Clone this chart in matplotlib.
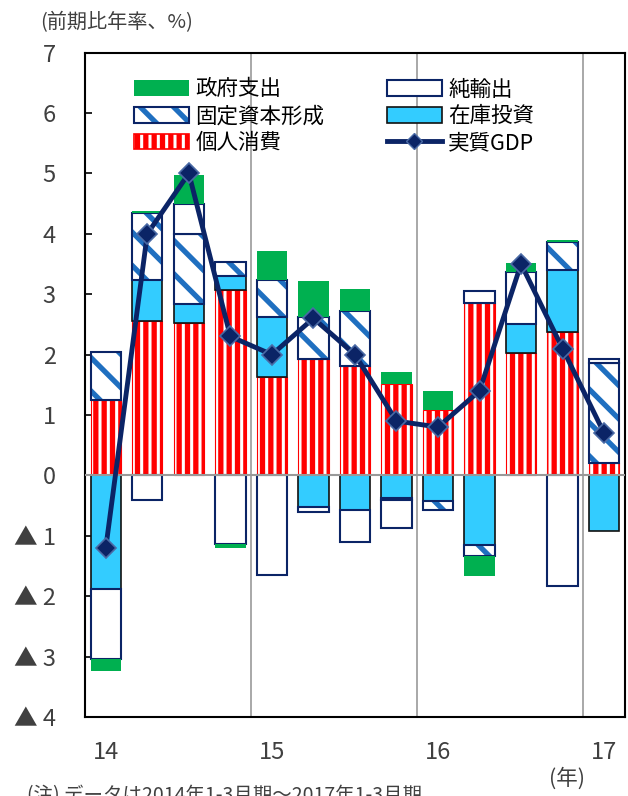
import numpy as np
import matplotlib
matplotlib.use("Agg")
import matplotlib.pyplot as plt
from matplotlib.patches import Patch
from matplotlib.lines import Line2D

plt.rcParams['font.family'] = ['Noto Sans CJK JP', 'DejaVu Sans']
plt.rcParams['hatch.linewidth'] = 3.8

# Data (contribution to real GDP growth, annualized q/q, %)
quarters = ["14Q1", "14Q2", "14Q3", "14Q4", "15Q1", "15Q2", "15Q3",
            "15Q4", "16Q1", "16Q2", "16Q3", "16Q4", "17Q1"]
personal = [1.25, 2.55, 2.52, 3.07, 1.63, 1.93, 1.81, 1.51, 1.08, 2.86, 2.02, 2.38, 0.21]
inventory = [-1.88, 0.68, 0.32, 0.23, 1.00, -0.52, -0.57, -0.37, -0.42, -1.15, 0.48, 1.02, -0.92]
fixed = [0.80, 1.12, 1.16, 0.23, 0.61, 0.69, 0.91, -0.04, -0.15, -0.18, 0.0, 0.46, 1.65]
net_exports = [-1.16, -0.41, 0.49, -1.13, -1.65, -0.08, -0.53, -0.46, 0.0, 0.20, 0.86, -1.83, 0.07]
government = [-0.20, 0.03, 0.49, -0.08, 0.48, 0.60, 0.37, 0.20, 0.32, -0.33, 0.15, 0.04, 0.0]
gdp = [-1.2, 4.0, 5.0, 2.3, 2.0, 2.6, 2.0, 0.9, 0.8, 1.4, 3.5, 2.1, 0.7]

year_labels = ["14", "15", "16", "17"]
y_ticks = [7, 6, 5, 4, 3, 2, 1, 0, -1, -2, -3, -4]

NAVY = "#0b2466"
RED = "#ff0000"
HATCH_BLUE = "#1f6fc0"
CYAN = "#33ccff"
GREEN = "#00b050"
GRAY = "#999999"
TEXT = "#404040"

fig = plt.figure(figsize=(6.28, 7.96), dpi=100)
ax = fig.add_axes([0.1354, 0.0992, 0.8596, 0.8348])

x = np.arange(len(quarters))
width = 0.73
pos_base = np.zeros(len(x))
neg_base = np.zeros(len(x))


def stack(vals, **kw):
    global pos_base, neg_base
    v = np.array(vals, dtype=float)
    bottom = np.where(v >= 0, pos_base, neg_base)
    m = v != 0
    outline = kw.pop("outline", None)
    ax.bar(x[m], v[m], width, bottom=bottom[m], zorder=2, **kw)
    if outline is not None:
        ax.bar(x[m], v[m], width, bottom=bottom[m], fill=False,
               edgecolor=outline, linewidth=1.5, zorder=2)
    pos_base = pos_base + np.where(v > 0, v, 0)
    neg_base = neg_base + np.where(v < 0, v, 0)


stack(personal, facecolor="white", edgecolor=RED, hatch="||", linewidth=0.8)
stack(inventory, facecolor=CYAN, edgecolor="#111111", linewidth=1.2)
stack(fixed, facecolor="white", edgecolor=HATCH_BLUE, hatch="\\", linewidth=0,
      outline=NAVY)
stack(net_exports, facecolor="white", edgecolor=NAVY, linewidth=1.5)
stack(government, facecolor=GREEN, edgecolor="none", linewidth=0)

ax.axhline(0, color=GRAY, linewidth=1.5, zorder=3)
for gx in [3.5, 7.5, 11.5]:
    ax.axvline(gx, color=GRAY, linewidth=1.2, zorder=1)

ax.plot(x, gdp, color=NAVY, linewidth=3.5, marker="D", markersize=10.5,
        markerfacecolor=NAVY, markeredgecolor="#4a6aa5", markeredgewidth=1.2,
        zorder=5)

ax.set_xlim(-0.5, 12.5)
ax.set_ylim(-4, 7)
ax.set_yticks(y_ticks)
ax.set_yticklabels([str(t) if t >= 0 else "▲ " + str(-t) for t in y_ticks])
ax.set_xticks([0, 4, 8, 12])
ax.set_xticklabels(year_labels)
ax.tick_params(axis="y", direction="in", length=5, width=1.2, pad=21,
               labelsize=17, labelcolor=TEXT)
ax.tick_params(axis="x", length=0, pad=17, labelsize=17, labelcolor=TEXT)
for s in ax.spines.values():
    s.set_linewidth(1.5)
    s.set_color("black")

# legend
h_gov = Patch(facecolor=GREEN, edgecolor="none")
h_fixed = (Patch(facecolor="white", edgecolor=HATCH_BLUE, hatch="\\", linewidth=0),
           Patch(fill=False, edgecolor=NAVY, linewidth=1.5))
h_pers = Patch(facecolor="white", edgecolor=RED, hatch="||", linewidth=1.2)
h_net = Patch(facecolor="white", edgecolor=NAVY, linewidth=1.5)
h_inv = Patch(facecolor=CYAN, edgecolor="#111111", linewidth=1.2)
h_gdp = Line2D([], [], color=NAVY, linewidth=3.5, marker="D", markersize=8,
               markerfacecolor=NAVY, markeredgecolor="#4a6aa5")
ax.legend([h_gov, h_fixed, h_pers, h_net, h_inv, h_gdp],
          ["政府支出", "固定資本形成", "個人消費", "純輸出", "在庫投資", "実質GDP"],
          ncol=2, frameon=False, fontsize=15.5, handlelength=2.55, handleheight=0.75,
          handletextpad=0.3, labelspacing=0.22, columnspacing=2.9,
          loc="upper left", bbox_to_anchor=(0.075, 0.974), borderaxespad=0)

fig.text(0.064, 0.972, "(前期比年率、%)", fontsize=14.5, color=TEXT, va="center")
fig.text(0.903, 0.022, "(年)", fontsize=15.5, color=TEXT, va="center", ha="center")
fig.text(0.043, 0.014, "(注) データは2014年1-3月期～2017年1-3月期", fontsize=14,
         color=TEXT, va="top")

fig.savefig("out.png", dpi=100)
